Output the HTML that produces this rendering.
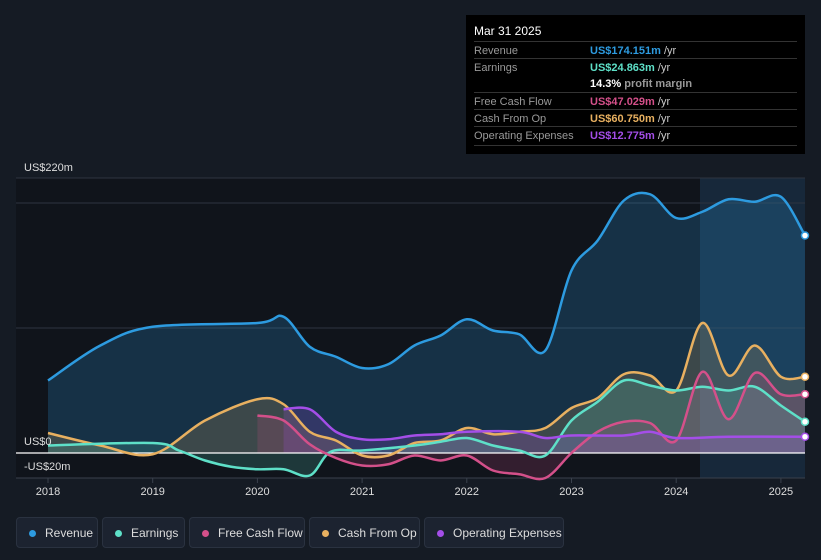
<!DOCTYPE html>
<html><head><meta charset="utf-8"><style>
body{margin:0;background:#151b24;font-family:"Liberation Sans",sans-serif;}
#wrap{position:relative;width:821px;height:560px;overflow:hidden;background:#151b24}
.tip{position:absolute;left:466px;top:15px;width:339px;height:139px;background:#000;color:#fff;font-size:11px}
.tip .row{position:absolute;left:8px;width:323px;border-top:1px solid #333;height:17px}
.tip .l{position:absolute;left:0;top:3px;color:#999}
.tip .v{position:absolute;left:116px;top:3px;font-weight:bold}
.tip .u{color:#ccc;font-weight:normal}
.leg{position:absolute;top:517px;height:31px;border:1px solid #2a3240;border-radius:4px;background:#1c2330;color:#ddd;font-size:12px;line-height:31px;box-sizing:border-box;padding-left:28px}
.leg i{position:absolute;left:12px;top:12px;width:7px;height:7px;border-radius:50%}
</style></head><body>
<div id="wrap">
<svg id="chart" width="821" height="510" style="position:absolute;left:0;top:0"></svg>
<div class="tip">
 <div style="position:absolute;left:8px;top:9px;font-size:12px">Mar 31 2025</div>
 <div class="row" style="top:26px"><span class="l">Revenue</span><span class="v" style="color:#2d9be0">US$174.151m <span class="u">/yr</span></span></div>
 <div class="row" style="top:43px"><span class="l">Earnings</span><span class="v" style="color:#5ee0c8">US$24.863m <span class="u">/yr</span></span></div>
 <div class="row" style="top:60px;border-top:none"><span class="v" style="color:#fff">14.3% <span class="u" style="color:#999;font-weight:bold">profit margin</span></span></div>
 <div class="row" style="top:77px"><span class="l">Free Cash Flow</span><span class="v" style="color:#d4508a">US$47.029m <span class="u">/yr</span></span></div>
 <div class="row" style="top:94px"><span class="l">Cash From Op</span><span class="v" style="color:#e8b060">US$60.750m <span class="u">/yr</span></span></div>
 <div class="row" style="top:111px"><span class="l">Operating Expenses</span><span class="v" style="color:#a44ee8">US$12.775m <span class="u">/yr</span></span></div>
 <div class="row" style="top:130px;height:0"></div>
</div>
<div class="leg" style="left:16px;width:82px"><i style="background:#2d9be0"></i>Revenue</div>
<div class="leg" style="left:102px;width:83px"><i style="background:#5ee0c8"></i>Earnings</div>
<div class="leg" style="left:189px;width:116px"><i style="background:#d4508a"></i>Free Cash Flow</div>
<div class="leg" style="left:309px;width:111px"><i style="background:#e8b060"></i>Cash From Op</div>
<div class="leg" style="left:424px;width:140px"><i style="background:#a44ee8"></i>Operating Expenses</div>
</div>
<script>
const revX=[2018,2018.5,2019,2020,2020.25,2020.5,2020.75,2021,2021.25,2021.5,2021.75,2022,2022.25,2022.5,2022.75,2023,2023.25,2023.5,2023.75,2024,2024.25,2024.5,2024.75,2025,2025.23];
const revV=[58,86,101,104,109,85,77,68,71,86,94,107,98,95,82,146,170,202,207,188,193,203,201,205,174];
const earnX=[2018,2019,2019.25,2019.5,2019.75,2020,2020.25,2020.5,2020.7,2021,2021.5,2021.75,2022,2022.25,2022.5,2022.75,2023,2023.25,2023.5,2023.75,2024,2024.25,2024.5,2024.75,2025,2025.23];
const earnV=[6,8,2,-6,-11,-13,-13,-18,1,2,6,9,12,6,2,-2,26,41,58,54,50,53,50,53,38,25];
const fcfX=[2020,2020.25,2020.5,2020.75,2021,2021.25,2021.5,2021.75,2022,2022.25,2022.5,2022.75,2023,2023.25,2023.5,2023.75,2024,2024.25,2024.5,2024.75,2025,2025.23];
const fcfV=[30,26,7,-4,-10,-9,-2,-6,-2,-14,-17,-20,0,17,25,24,10,65,27,64,47,47];
const cfoX=[2018,2018.5,2019,2019.5,2020,2020.25,2020.5,2020.75,2021,2021.25,2021.5,2021.75,2022,2022.25,2022.5,2022.75,2023,2023.25,2023.5,2023.75,2024,2024.25,2024.5,2024.75,2025,2025.23];
const cfoV=[16,6,-1,26,43,39,17,10,-2,-2,8,10,20,15,17,20,36,44,63,62,50,104,62,86,61,61];
const opxX=[2020.25,2020.5,2020.75,2021,2021.25,2021.5,2021.75,2022,2022.5,2022.75,2023,2023.5,2023.75,2024,2024.5,2025.23];
const opxV=[35,35,17,11,11,14,15,17,17,12,14,14,17,12,13,13];
const yearTicks=[2018,2019,2020,2021,2022,2023,2024,2025];
const NS="http://www.w3.org/2000/svg";
const X=t=>48+(t-2018)*104.7, Y=v=>453-v*1.25;
const svg=document.getElementById('chart');
function el(tag,attrs,name,inter){const e=document.createElementNS(NS,tag);for(const k in attrs)e.setAttribute(k,attrs[k]);


svg.appendChild(e);return e;}
function path(xs,vs){const p=xs.map((x,i)=>[X(x),Y(vs[i])]);let d=`M${p[0][0]},${p[0][1]}`;
for(let i=0;i<p.length-1;i++){const p0=p[i-1]||p[i],p1=p[i],p2=p[i+1],p3=p[i+2]||p2;
d+=` C${p1[0]+(p2[0]-p0[0])/6},${p1[1]+(p2[1]-p0[1])/6} ${p2[0]-(p3[0]-p1[0])/6},${p2[1]-(p3[1]-p1[1])/6} ${p2[0]},${p2[1]}`;}return d;}
el('rect',{x:16,y:178,width:684,height:300,fill:'#10141b'},'plot-background',false);
el('rect',{x:700,y:178,width:105,height:300,fill:'#17283a'},'forecast-highlight',false);
[220,200,100].forEach(v=>el('line',{x1:16,x2:805,y1:Y(v),y2:Y(v),stroke:'#2e3540'},'gridline',false));
el('line',{x1:16,x2:805,y1:Y(-20),y2:Y(-20),stroke:'#3a414c'},'x-axis-line',false);
const series=[[revX,revV,'#2d9be0','revenue',0.22],[cfoX,cfoV,'#e8b060','cash-from-op',0.18],[earnX,earnV,'#5ee0c8','earnings',0.18],[fcfX,fcfV,'#d4508a','free-cash-flow',0.18],[opxX,opxV,'#a44ee8','operating-expenses',0.2]];
series.forEach(([xs,vs,c,n,o])=>{const d=path(xs,vs);
el('path',{d:d+` L${X(xs[xs.length-1])},${Y(0)} L${X(xs[0])},${Y(0)} Z`,fill:c,'fill-opacity':o},n+'-area',false);});
el('line',{x1:16,x2:805,y1:Y(0),y2:Y(0),stroke:'#fff','stroke-width':1.3},'zero-line',false);
series.forEach(([xs,vs,c,n])=>{el('path',{d:path(xs,vs),fill:'none',stroke:c,'stroke-width':2.5},n+'-line',false);
el('circle',{cx:X(xs[xs.length-1]),cy:Y(vs[vs.length-1]),r:3.5,fill:'#fff',stroke:c,'stroke-width':1.5},n+'-end-point',true);});
yearTicks.forEach(t=>{el('line',{x1:X(t),x2:X(t),y1:478,y2:483,stroke:'#3a414c'},'x-tick',false);
const tx=el('text',{x:X(t),y:495,fill:'#ddd','font-size':11,'text-anchor':'middle','font-family':'Liberation Sans'},'x-tick-label',false);tx.textContent=t;});
[['US$220m',Y(220)-7],['US$0',Y(0)-8],['-US$20m',Y(-20)-8]].forEach(([s,y])=>{const t=el('text',{x:24,y:y,fill:'#ddd','font-size':11,'font-family':'Liberation Sans'},'y-axis-label',false);t.textContent=s;});
</script>
</body></html>
